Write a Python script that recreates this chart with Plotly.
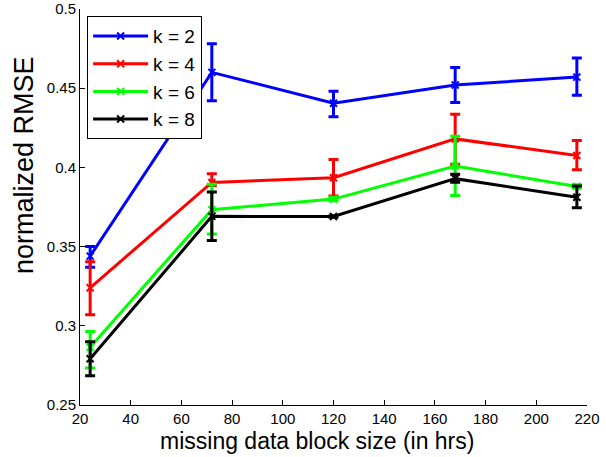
import plotly.graph_objects as go

block_size = [24, 72, 120, 168, 216]

k2_mean = [0.344, 0.460, 0.4405, 0.452, 0.457]
k2_upper = [0.350, 0.478, 0.448, 0.463, 0.469]
k2_lower = [0.337, 0.442, 0.432, 0.441, 0.4455]

k4_mean = [0.324, 0.3905, 0.3935, 0.418, 0.4075]
k4_upper = [0.3405, 0.396, 0.405, 0.4335, 0.417]
k4_lower = [0.307, 0.3885, 0.382, 0.402, 0.3985]

k6_mean = [0.2865, 0.3733, 0.380, 0.4008, 0.388]
k6_upper = [0.2964, 0.3893, 0.381, 0.4196, 0.389]
k6_lower = [0.2733, 0.3579, 0.379, 0.3823, 0.387]

k8_mean = [0.2792, 0.3691, 0.3690, 0.3929, 0.3812]
k8_upper = [0.290, 0.3844, 0.3695, 0.3956, 0.3882]
k8_lower = [0.2684, 0.3538, 0.3685, 0.3907, 0.3746]

series = [
    ("k = 2", "#0000ff", k2_mean, k2_upper, k2_lower),
    ("k = 4", "#ff0000", k4_mean, k4_upper, k4_lower),
    ("k = 6", "#00ff00", k6_mean, k6_upper, k6_lower),
    ("k = 8", "#000000", k8_mean, k8_upper, k8_lower),
]

x_ticks = [20, 40, 60, 80, 100, 120, 140, 160, 180, 200, 220]
y_ticks = [0.25, 0.3, 0.35, 0.4, 0.45, 0.5]
y_tick_text = ["0.25", "0.3", "0.35", "0.4", "0.45", "0.5"]

x_title = "missing data block size (in hrs)"
y_title = "normalized RMSE"

fig = go.Figure()
for name, color, m, up, lo in series:
    fig.add_trace(go.Scatter(
        x=block_size, y=m, name=name, mode="lines+markers",
        line=dict(color=color, width=3),
        marker=dict(symbol="x-thin", size=7, color=color,
                    line=dict(color=color, width=2)),
        error_y=dict(type="data", symmetric=False,
                     array=[u - v for u, v in zip(up, m)],
                     arrayminus=[v - l for v, l in zip(m, lo)],
                     color=color, thickness=3, width=5),
    ))

fig.update_layout(
    width=606, height=457,
    margin=dict(l=80, r=19, t=9, b=52, autoexpand=False),
    plot_bgcolor="white", paper_bgcolor="white",
    font=dict(family="Liberation Sans, Arial, sans-serif", color="black"),
    showlegend=True,
    legend=dict(x=0.014, y=0.982, xanchor="left", yanchor="top",
                bgcolor="white", bordercolor="black", borderwidth=1,
                font=dict(size=19), tracegroupgap=0, itemwidth=55),
    xaxis=dict(range=[20, 220], tickvals=x_ticks, ticks="inside", ticklen=5,
               tickcolor="black", showline=True, linecolor="black", linewidth=1,
               showgrid=False, zeroline=False, tickfont=dict(size=15),
               automargin=False, ticklabeloverflow="allow"),
    yaxis=dict(range=[0.25, 0.5], tickvals=y_ticks, ticktext=y_tick_text,
               ticks="inside", ticklen=5, tickcolor="black", showline=True,
               linecolor="black", linewidth=1, showgrid=False, zeroline=False,
               tickfont=dict(size=15), automargin=False,
               ticklabeloverflow="allow"),
    annotations=[
        dict(text=x_title, xref="paper", yref="paper", x=0.4675, y=-0.091,
             xanchor="center", yanchor="middle", showarrow=False,
             font=dict(size=23)),
        dict(text=y_title, xref="paper", yref="paper", x=-0.1105, y=0.606,
             xanchor="center", yanchor="middle", showarrow=False, textangle=-90,
             font=dict(size=27)),
    ],
)

fig.write_html("out.html", config={"displayModeBar": False},
               post_script="document.body.style.margin='0';document.body.style.padding='0';")
